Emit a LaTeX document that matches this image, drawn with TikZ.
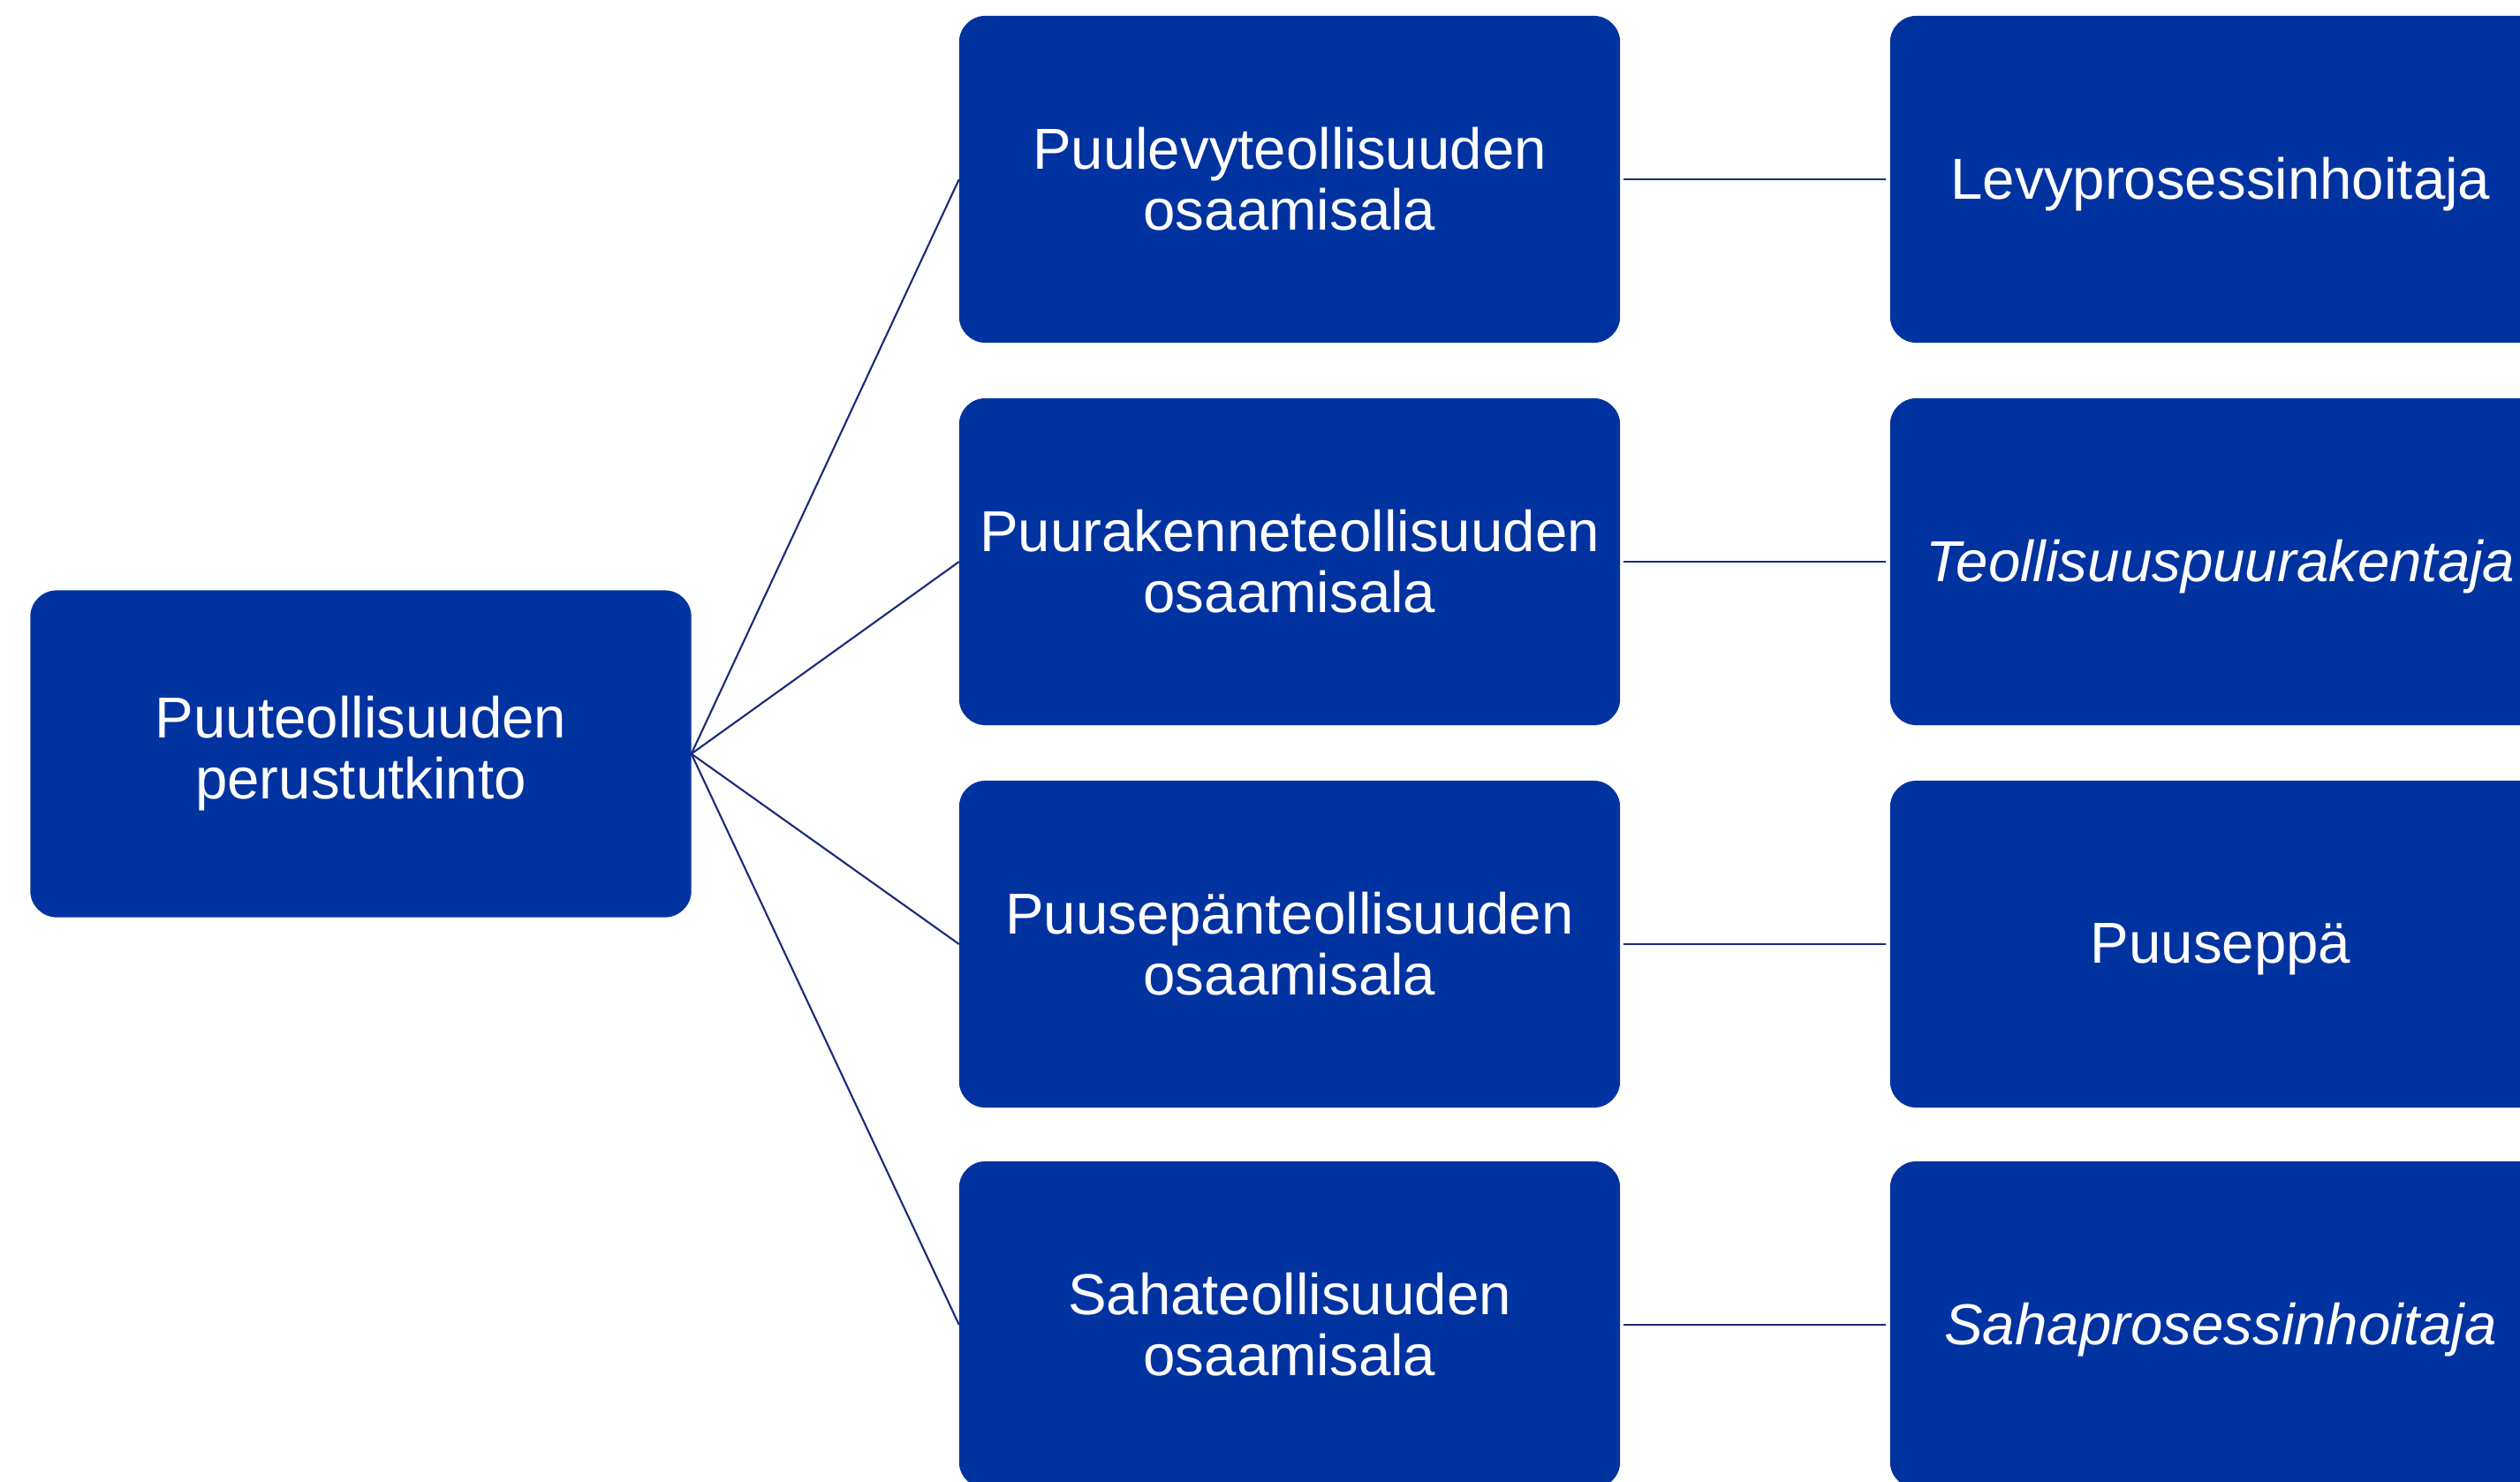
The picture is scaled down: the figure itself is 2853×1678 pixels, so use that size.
\documentclass[tikz,border=0pt]{standalone}
\usepackage{fontspec}
\setmainfont{Liberation Sans}
\definecolor{boxblue}{RGB}{0,51,160}
\definecolor{linkblue}{RGB}{26,42,122}
\newcommand{\onel}[1]{\raisebox{-1.7pt}[\height][\depth]{#1}}
\begin{document}
\begin{tikzpicture}[x=0.01cm,y=-0.01cm,
  box/.style={fill=boxblue,draw=none,rounded corners=0.3cm,minimum width=7.48cm,minimum height=3.70cm,
    text=white,align=center,inner sep=0pt,outer sep=0pt,
    font=\fontsize{18.6pt}{19.6pt}\selectfont},
  link/.style={draw=linkblue,line width=0.6pt}]
\useasboundingbox (0,0) rectangle (2853,1678);
\clip (0,0) rectangle (2853,1678);
\node[box] (root) at (408.5,853.5) {Puuteollisuuden\\perustutkinto};
\node[box] (m1) at (1460,203) {Puulevyteollisuuden\\osaamisala};
\node[box] (m2) at (1460,636) {Puurakenneteollisuuden\\osaamisala};
\node[box] (m3) at (1460,1069) {Puusepänteollisuuden\\osaamisala};
\node[box] (m4) at (1460,1500) {Sahateollisuuden\\osaamisala};
\node[box] (r1) at (2514,203) {\onel{Levyprosessinhoitaja}};
\node[box] (r2) at (2514,636) {\onel{\itshape Teollisuuspuurakentaja}};
\node[box] (r3) at (2514,1069) {\onel{Puuseppä}};
\node[box] (r4) at (2514,1500) {\onel{\itshape Sahaprosessinhoitaja}};
\foreach \m in {m1,m2,m3,m4}{\draw[link] (root.east) -- (\m.west);}
\draw[link] ([xshift=1pt]m1.east) -- ([xshift=-1.5pt]r1.west);
\draw[link] ([xshift=1pt]m2.east) -- ([xshift=-1.5pt]r2.west);
\draw[link] ([xshift=1pt]m3.east) -- ([xshift=-1.5pt]r3.west);
\draw[link] ([xshift=1pt]m4.east) -- ([xshift=-1.5pt]r4.west);
\end{tikzpicture}
\end{document}
